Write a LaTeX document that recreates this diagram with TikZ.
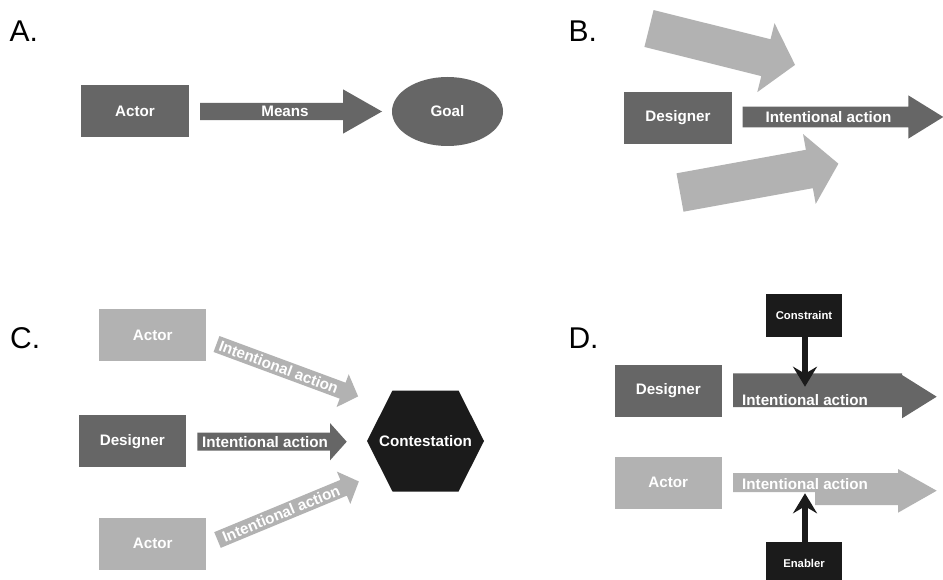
\documentclass[tikz,border=0pt]{standalone}
\usepackage{fontspec}
\setmainfont{Liberation Sans}
\usetikzlibrary{shapes.geometric,arrows.meta}

\definecolor{darkfill}{HTML}{666666}
\definecolor{lightfill}{HTML}{B2B2B2}
\definecolor{blackfill}{HTML}{1B1B1B}

% Block arrow: #1 name, #2 tail point, #3 angle, #4 total length,
% #5 shaft width, #6 head width, #7 head length, #8 fill colour
\newcommand{\blockarrow}[8]{%
  \begin{scope}[shift={#2}, rotate=#3]
    \fill[#8] (0,{-#5/2}) -- ({#4-#7},{-#5/2}) -- ({#4-#7},{-#6/2}) -- (#4,0)
      -- ({#4-#7},{#6/2}) -- ({#4-#7},{#5/2}) -- (0,{#5/2}) -- cycle;
    \coordinate (#1-tail) at (0,0);
    \coordinate (#1-tip) at (#4,0);
  \end{scope}}

\tikzset{
  labelfont/.style={font=\fontsize{15.2}{18}\selectfont\bfseries, text=white},
  smallfont/.style={font=\fontsize{11.3}{13}\selectfont\bfseries, text=white},
  box/.style={rectangle, inner sep=0pt, minimum width=107.5pt, minimum height=52pt, labelfont},
  darkbox/.style={box, fill=darkfill},
  lightbox/.style={box, fill=lightfill},
  blackbox/.style={rectangle, inner sep=0pt, minimum width=75.5pt, minimum height=42.5pt, fill=blackfill, smallfont},
  panel/.style={font=\fontsize{30}{34}\selectfont, anchor=base west, inner sep=0pt},
  arrowtext/.style={labelfont, inner sep=0pt},
  thickarrow/.style={draw=blackfill, line width=6.7pt,
    -{Stealth[length=20pt, width=24pt, inset=7pt]}}
}

\begin{document}
\begin{tikzpicture}[x=1pt, y=-1pt]
\clip (0,0) rectangle (943,580);
\fill[white] (0,0) rectangle (943,580);

% ---------- A ----------
\node[panel] (labA) at (9.5,42) {A.};
\node[darkbox] (actorA) at (135,111) {Actor};
\blockarrow{means}{(200,111.5)}{0}{182}{17.3}{44.3}{39}{darkfill}
\node[arrowtext] (meansText) at (285,111.5) {Means};
\node[ellipse, fill=darkfill, inner sep=0pt, minimum width=111pt,
      minimum height=69pt, labelfont] (goal) at (447.5,111.5) {Goal};

% ---------- B ----------
\node[panel] (labB) at (568.3,41.7) {B.};
\blockarrow{forceUp}{(649,28.5)}{-14}{150.5}{38}{71}{30}{lightfill}
\blockarrow{forceDown}{(680,192.5)}{10.3}{161}{39}{71}{29.5}{lightfill}
\node[darkbox] (designerB) at (678,118) {Designer};
\blockarrow{actB}{(742.7,117)}{0}{200.6}{20.7}{43.3}{35}{darkfill}
\node[arrowtext] (actBText) at (828.5,117) {Intentional action};

% ---------- C ----------
\node[panel] (labC) at (10,348.3) {C.};
\node[lightbox] (actorC1) at (152.7,335) {Actor};
\node[darkbox] (designerC) at (132.3,441.3) {Designer};
\node[lightbox] (actorC2) at (152.7,543.5) {Actor};

\blockarrow{actC1}{(216.5,344)}{-20.3}{151}{17}{35}{16.5}{lightfill}
\path (actC1-tail) -- (actC1-tip) node[arrowtext, sloped, pos=0.44] (actC1Text) {Intentional action};
\blockarrow{actC}{(197.3,441.7)}{0}{149.4}{18}{37.3}{16.7}{darkfill}
\node[arrowtext] (actCText) at (265,441.7) {Intentional action};
\blockarrow{actC2}{(217.5,540)}{22.5}{153}{17}{35}{16.5}{lightfill}
\path (actC2-tail) -- (actC2-tip) node[arrowtext, sloped, pos=0.45] (actC2Text) {Intentional action};

\fill[blackfill] (367,441) -- (392.5,390.5) -- (458.5,390.5) -- (484,441)
  -- (458.5,491.5) -- (392.5,491.5) -- cycle;
\node[labelfont] (contest) at (425.5,441) {Contestation};

% ---------- D ----------
\node[panel] (labD) at (568.3,348.3) {D.};
\node[darkbox] (designerD) at (668.3,390.8) {Designer};
\node[lightbox] (actorD) at (668.3,482.8) {Actor};

\fill[darkfill] (733,373.3) -- (902,373.3) -- (902,375) -- (936.7,396.7)
  -- (902,418.3) -- (902,407) -- (733,407) -- cycle;
\node[arrowtext, anchor=base west] (actDText) at (742,405) {Intentional action};

\fill[lightfill] (733,473) -- (898,473) -- (898,469) -- (936.7,490.7)
  -- (898,512.7) -- (898,505) -- (815,505) -- (815,492) -- (733,492) -- cycle;
\node[arrowtext, anchor=base west] (actD2Text) at (742,489.3) {Intentional action};

\node[blackbox] (constraint) at (804,315.5) {Constraint};
\node[blackbox] (enabler) at (804,563) {Enabler};
\coordinate (constraintTip) at (805,386.7);
\coordinate (enablerTip) at (805,493.3);
\draw[thickarrow] (constraint.south -| constraintTip) -- (constraintTip);
\draw[thickarrow] (enabler.north -| enablerTip) -- (enablerTip);
\end{tikzpicture}
\end{document}
